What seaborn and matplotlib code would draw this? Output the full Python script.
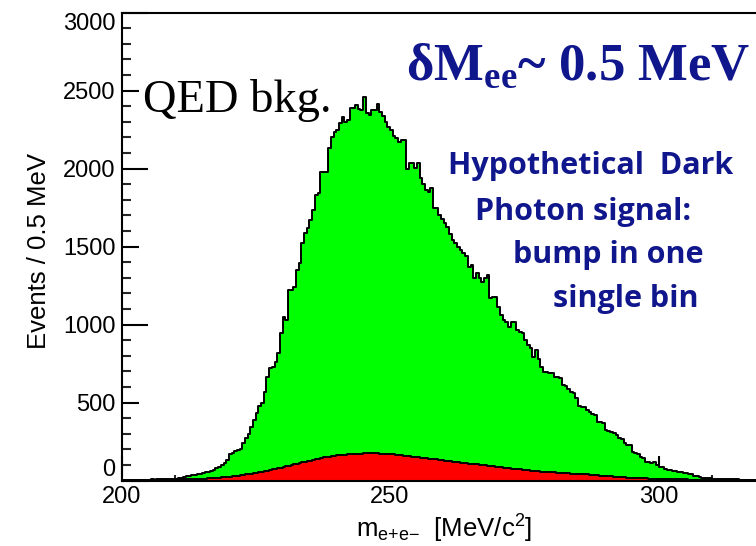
import numpy as np
import pandas as pd
import matplotlib
matplotlib.use("Agg")
import matplotlib.pyplot as plt
from matplotlib.ticker import MultipleLocator, FixedLocator
import seaborn as sns

# ---------------- data ----------------
bin_width = 0.5          # MeV
mass_range = (200.0, 320.0)

# total QED background (green), one value per 0.5 MeV bin, 200 -> 320 MeV
qed_counts = [
    3, 4, 3, 5, 4, 4, 5, 6, 5, 7,
    6, 8, 7, 8, 9, 10, 10, 12, 12, 14,
    14, 16, 18, 22, 28, 32, 36, 36, 40, 44,
    50, 56, 58, 62, 70, 79, 88, 100, 115, 133,
    169, 176, 190, 197, 200, 241, 272, 300, 346, 389,
    433, 476, 497, 570, 666, 720, 730, 760, 816, 944,
    1051, 1031, 1222, 1222, 1240, 1350, 1393, 1521, 1585, 1617,
    1670, 1734, 1830, 1842, 1980, 1980, 1980, 2130, 2204, 2236,
    2247, 2290, 2332, 2300, 2310, 2386, 2386, 2407, 2380, 2375,
    2457, 2358, 2343, 2375, 2375, 2413, 2364, 2340, 2300, 2268,
    2247, 2210, 2194, 2172, 2183, 2183, 1995, 2034, 2034, 2002,
    2034, 1937, 1900, 1863, 1852, 1873, 1745, 1745, 1700, 1680,
    1649, 1627, 1580, 1542, 1521, 1500, 1478, 1461, 1440, 1371,
    1382, 1297, 1329, 1300, 1275, 1300, 1318, 1169, 1179, 1179,
    1115, 1060, 1030, 1019, 987, 1019, 1019, 966, 955, 944,
    901, 870, 848, 795, 837, 780, 730, 698, 698, 688,
    688, 666, 666, 656, 613, 607, 590, 570, 560, 528,
    480, 474, 470, 453, 442, 430, 421, 378, 375, 368,
    325, 320, 314, 304, 293, 272, 265, 240, 229, 229,
    186, 176, 170, 154, 144, 122, 118, 111, 122, 100,
    90, 88, 72, 69, 66, 64, 60, 58, 57, 50,
    47, 44, 44, 30, 27, 22, 19, 19, 18, 16,
    14, 13, 12, 12, 11, 10, 10, 9, 8, 8,
    7, 7, 6, 6, 5, 5, 5, 4, 4, 4,
]

# red component, one value per 0.5 MeV bin, 200 -> 320 MeV
red_counts = [
    2, 2, 2, 3, 3, 3, 3, 3, 4, 4,
    4, 4, 5, 5, 5, 6, 6, 6, 7, 7,
    8, 8, 9, 9, 10, 10, 11, 11, 12, 13,
    13, 14, 15, 16, 17, 18, 19, 21, 23, 25,
    26, 28, 30, 32, 35, 38, 41, 43, 46, 49,
    52, 55, 57, 60, 64, 68, 72, 76, 80, 84,
    88, 92, 96, 100, 105, 109, 113, 117, 121, 125,
    129, 133, 137, 141, 145, 149, 153, 155, 158, 160,
    162, 164, 166, 167, 169, 170, 171, 172, 173, 174,
    175, 175, 176, 175, 176, 175, 174, 173, 172, 171,
    170, 168, 166, 164, 162, 160, 158, 156, 154, 152,
    150, 148, 146, 144, 142, 140, 138, 136, 134, 131,
    128, 126, 124, 122, 120, 118, 116, 114, 112, 110,
    108, 106, 104, 102, 100, 98, 96, 94, 92, 90,
    88, 86, 84, 82, 80, 78, 76, 74, 72, 70,
    68, 66, 64, 62, 60, 59, 58, 57, 56, 55,
    54, 53, 52, 51, 50, 49, 48, 46, 45, 44,
    43, 42, 41, 40, 38, 37, 36, 35, 33, 32,
    30, 29, 27, 26, 25, 24, 22, 21, 20, 19,
    18, 17, 17, 16, 15, 15, 14, 13, 13, 12,
    12, 11, 11, 10, 10, 9, 9, 9, 8, 8,
    8, 7, 7, 7, 6, 6, 6, 6, 5, 5,
    5, 5, 5, 4, 4, 4, 4, 4, 4, 3,
    3, 3, 3, 3, 3, 3, 3, 2, 2, 2,
]

x_major_ticks = [200, 250, 300]
y_major_ticks = [0, 500, 1000, 1500, 2000, 2500, 3000]

title_text = r"δM$_{\mathregular{ee}}$~ 0.5 MeV"
bkg_text = "QED bkg."
note_lines = ["Hypothetical  Dark", "Photon signal:", "bump in one", "single bin"]
x_label = r"m$_{\mathregular{e{+}e{-}}}$  [MeV/c$^{\mathregular{2}}$]"
y_label = "Events / 0.5 MeV"

# ---------------- build table ----------------
n_bins = len(qed_counts)
centers = mass_range[0] + bin_width * (np.arange(n_bins) + 0.5)
df = pd.DataFrame({"m": centers, "qed": qed_counts, "red": red_counts})

# ---------------- style ----------------
sns.set_theme(style="ticks")
plt.rcParams["font.family"] = ["Liberation Sans", "DejaVu Sans"]
plt.rcParams["mathtext.fontset"] = "custom"
plt.rcParams["mathtext.rm"] = "Liberation Sans"
plt.rcParams["mathtext.it"] = "Liberation Sans:italic"
plt.rcParams["mathtext.bf"] = "Liberation Sans:bold"

W, H = 756, 546
fig = plt.figure(figsize=(W / 100, H / 100), dpi=100)
fig.patch.set_facecolor("white")
ax_left, ax_bottom, ax_right_px, ax_top_px = 121.5, 480.7, 765.9, 12.5
ax = fig.add_axes([ax_left / W, (H - ax_bottom) / H,
                   (ax_right_px - ax_left) / W, (ax_bottom - ax_top_px) / H])
ax.set_facecolor("white")

green = "#00ff00"
red = "#ff0000"
navy = "#10168c"

hist_kw = dict(data=df, x="m", binwidth=bin_width, binrange=mass_range,
               element="step", ax=ax)
# green filled histogram + outline
sns.histplot(weights="qed", fill=True, color=green, alpha=1, linewidth=0, **hist_kw)
sns.histplot(weights="qed", fill=False, color="black", linewidth=1.4, **hist_kw)
# red filled histogram + outline
sns.histplot(weights="red", fill=True, color=red, alpha=1, linewidth=0, **hist_kw)
sns.histplot(weights="red", fill=False, color="black", linewidth=1.4, **hist_kw)

ax.set_xlim(*mass_range)
ax.set_ylim(0, 3000)

# spines
for side in ["left", "bottom", "top", "right"]:
    ax.spines[side].set_visible(True)
    ax.spines[side].set_color("black")
    ax.spines[side].set_linewidth(1.5)

# ticks
ax.xaxis.set_major_locator(FixedLocator(x_major_ticks))
ax.xaxis.set_minor_locator(MultipleLocator(10))
ax.yaxis.set_major_locator(FixedLocator(y_major_ticks))
ax.yaxis.set_minor_locator(MultipleLocator(100))
ax.tick_params(axis="x", which="major", direction="in", length=8, width=1.5,
               labelsize=17, pad=4, colors="black")
ax.tick_params(axis="x", which="minor", direction="in", length=4, width=1.5)
ax.tick_params(axis="y", which="major", direction="in", length=12.2, width=1.5,
               labelsize=17, pad=4.5, colors="black")
ax.tick_params(axis="y", which="minor", direction="in", length=6.3, width=1.5)
ax.tick_params(top=False, right=False, which="both")

ax.set_xlabel(x_label, fontsize=18.5, color="black")
ax.set_ylabel(y_label, fontsize=18.5, color="black")
ax.xaxis.set_label_coords(0.5, -0.068)
ax.yaxis.set_label_coords(-0.11, 0.49)

fig.canvas.draw()
# longer ticks at primary divisions
for t in ax.xaxis.get_major_ticks():
    if abs(t.get_loc() - 300) < 1e-6 or abs(t.get_loc() - 200) < 1e-6:
        t.tick1line.set_markersize(18)
for t in ax.yaxis.get_major_ticks():
    loc = t.get_loc()
    if abs(loc % 1000) < 1e-6:
        t.tick1line.set_markersize(18.7)
    if abs(loc) < 1e-6:
        t.label1.set_verticalalignment("bottom")
    if abs(loc - 3000) < 1e-6:
        t.label1.set_verticalalignment("top")

# annotations
fig.text(143 / W, 1 - 111.7 / H, bkg_text, family="Liberation Serif",
         fontsize=33.5, color="black", ha="left", va="baseline")
fig.text(406 / W, 1 - 80 / H, title_text, family="Liberation Serif",
         weight="bold", fontsize=38, color=navy, ha="left", va="baseline")
note_pos = [(448, 174.3), (475, 220), (513, 263.3), (553, 306.7)]
for line, (px, py) in zip(note_lines, note_pos):
    fig.text(px / W, 1 - py / H, line, family=["Open Sans", "Lato"], weight="bold",
             fontsize=22, color=navy, ha="left", va="baseline")

fig.savefig("out.png", dpi=100, facecolor="white")
